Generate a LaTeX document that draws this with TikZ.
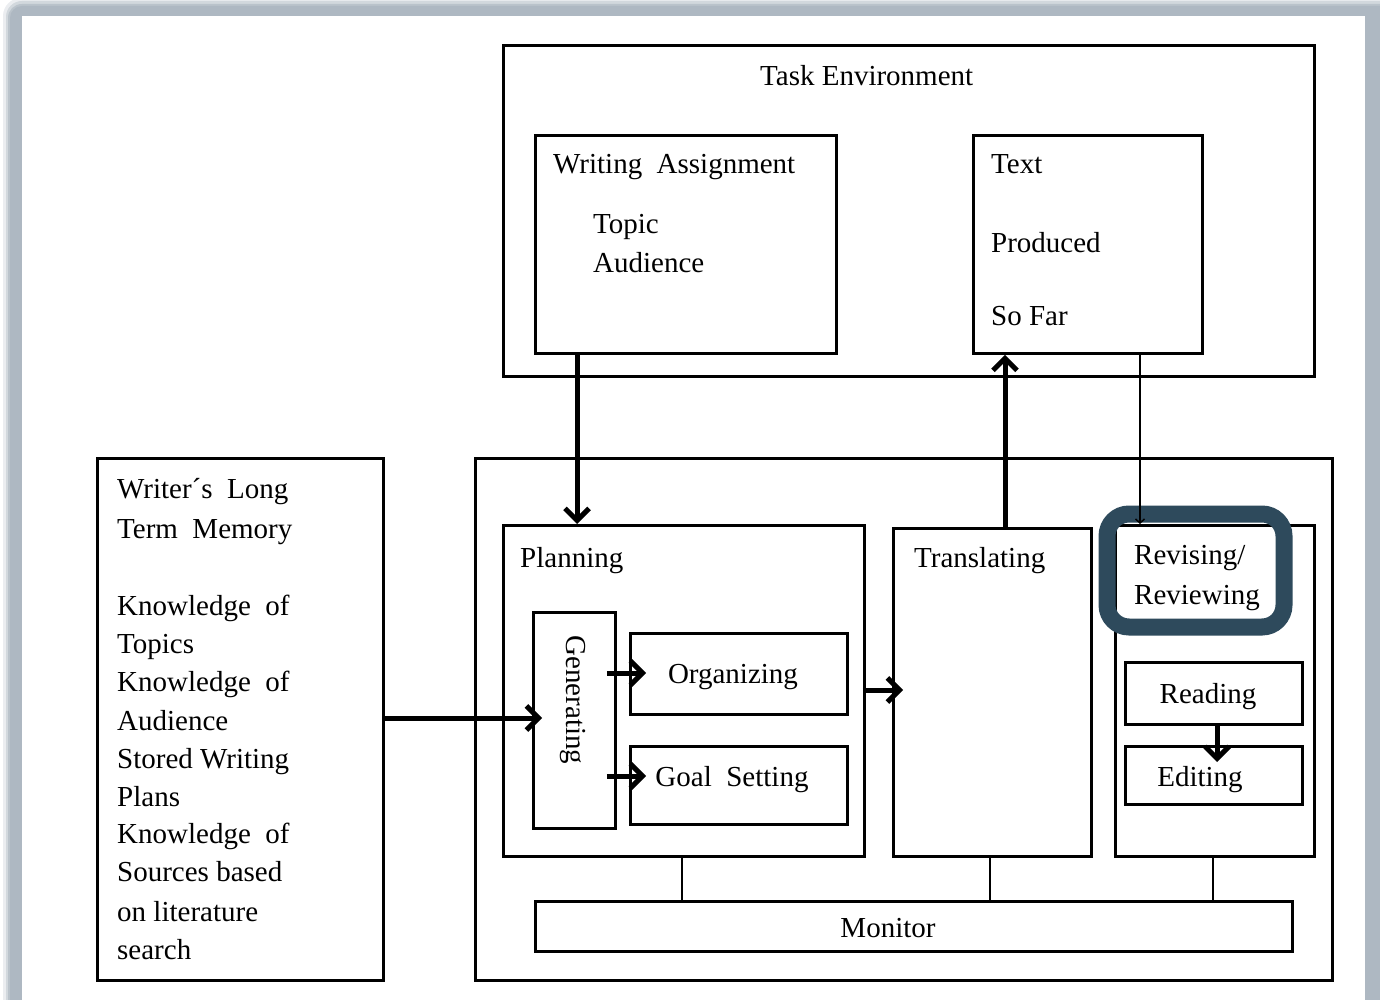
\documentclass[tikz,border=0pt]{standalone}
\usepackage{fontspec}
\setmainfont{Liberation Serif}
\usetikzlibrary{arrows.meta}
\definecolor{framegrey}{HTML}{AEB8C2}
\definecolor{hl}{HTML}{2E4A5C}
\begin{document}
\begin{tikzpicture}[x=1pt,y=-1pt,
  box/.style={draw, line width=2.8pt, anchor=north west, inner sep=0pt},
  lbl/.style={font=\fontsize{29}{34}\selectfont, inner sep=0pt, anchor=base west},
  arr/.style={line width=5pt, -{Straight Barb[length=12pt,width=24pt,line width=5pt]}},
  thinarr/.style={line width=2pt, -{Straight Barb[length=4pt,width=9pt,line width=1.5pt]}},
  link/.style={line width=2.8pt}]
\useasboundingbox (0,0) rectangle (1380,1000);
% frame
\fill[framegrey!25, rounded corners=18pt] (3,-2) rectangle (1400,1030);
\fill[framegrey!55, rounded corners=16pt] (6,1) rectangle (1400,1030);
\fill[framegrey!85, rounded corners=14pt] (8,4) rectangle (1400,1030);
\fill[framegrey, rounded corners=12pt] (10,6) rectangle (1400,1030);
\fill[white] (22,16) rectangle (1365,1030);

% boxes
\node[box, minimum width=811pt, minimum height=331pt] (task) at (502,44) {};
\node[box, minimum width=301pt, minimum height=218pt] (wa) at (534,134) {};
\node[box, minimum width=229pt, minimum height=218pt] (text) at (972,134) {};
\node[box, minimum width=857pt, minimum height=522pt] (outer) at (474,457) {};
\node[box, minimum width=286pt, minimum height=522pt] (ltm) at (96,457) {};
\node[box, minimum width=361pt, minimum height=331pt] (plan) at (502,524) {};
\node[box, minimum width=82pt, minimum height=216pt] (gen) at (532,611) {};
\node[box, minimum width=217pt, minimum height=81pt] (org) at (629,632) {};
\node[box, minimum width=217pt, minimum height=78pt] (goal) at (629,745) {};
\node[box, minimum width=198pt, minimum height=328pt] (trans) at (892,527) {};
\node[box, minimum width=199pt, minimum height=331pt] (rev) at (1114,524) {};
\node[box, minimum width=177pt, minimum height=62pt] (read) at (1124,661) {};
\node[box, minimum width=177pt, minimum height=58pt] (edit) at (1124,745) {};
\node[box, minimum width=757pt, minimum height=50pt] (mon) at (534,900) {};

% labels
\node[lbl] (tTask) at (760,86) {Task Environment};
\node[lbl] (tWA) at (553,174) {Writing\ \ Assignment};
\node[lbl] (tTopic) at (593,234) {Topic};
\node[lbl] (tAud) at (593,272) {Audience};
\node[lbl] (tText) at (991,174) {Text};
\node[lbl] (tProd) at (991,252) {Produced};
\node[lbl] (tSoFar) at (991,325) {So Far};
\node[lbl] (l1) at (117,498) {Writer´s\ \ Long};
\node[lbl] (l2) at (117,538) {Term\ \ Memory};
\node[lbl] (l3) at (117,615) {Knowledge\ \ of};
\node[lbl] (l4) at (117,653) {Topics};
\node[lbl] (l5) at (117,691) {Knowledge\ \ of};
\node[lbl] (l6) at (117,730) {Audience};
\node[lbl] (l7) at (117,768) {Stored Writing};
\node[lbl] (l8) at (117,806) {Plans};
\node[lbl] (l9) at (117,843) {Knowledge\ \ of};
\node[lbl] (l10) at (117,881) {Sources based};
\node[lbl] (l11) at (117,921) {on literature};
\node[lbl] (l12) at (117,959) {search};
\node[lbl] (tPlan) at (520,567) {Planning};
\node[lbl] (tTrans) at (914,567) {Translating};
\node[lbl] (tRev1) at (1134,564) {Revising/};
\node[lbl] (tRev2) at (1134,604) {Reviewing};
\node[lbl, anchor=center, rotate=-90] (tGen) at (573,700) {Generating};
\node[lbl, anchor=base] (tOrg) at (733,683) {Organizing};
\node[lbl, anchor=base] (tGoal) at (732,786) {Goal\ \ Setting};
\node[lbl, anchor=base] (tRead) at (1208,703) {Reading};
\node[lbl, anchor=base] (tEdit) at (1200,786) {Editing};
\node[lbl, anchor=base] (tMon) at (888,937) {Monitor};

% highlight
\draw[hl, line width=17pt, rounded corners=22pt] (1107,514) rectangle (1284,627);

% helper coordinates
\coordinate (c577) at (577,0);
\coordinate (c1005) at (1005,0);
\coordinate (c1140) at (1140,0);
\coordinate (c1217) at (1217,0);
\coordinate (c682) at (682,0);
\coordinate (c990) at (990,0);
\coordinate (c1213) at (1213,0);
\coordinate (y718) at (0,718);
\coordinate (y673) at (0,673);
\coordinate (y776) at (0,776);
\coordinate (y690) at (0,690);

% connectors
\draw[arr] (wa.south -| c577) -- (plan.north -| c577);
\draw[arr] (trans.north -| c1005) -- (text.south -| c1005);
\draw[thinarr] (text.south -| c1140) -- (rev.north -| c1140);
\draw[arr, shorten >=-10pt] (ltm.east |- y718) -- (gen.west |- y718);
\draw[arr, shorten <=-10pt, shorten >=-17pt] (gen.east |- y673) -- (org.west |- y673);
\draw[arr, shorten <=-10pt, shorten >=-17pt] (gen.east |- y776) -- (goal.west |- y776);
\draw[arr, shorten <=-3pt, shorten >=-11pt] (plan.east |- y690) -- (trans.west |- y690);
\draw[arr, shorten >=-17pt] (read.south -| c1217) -- (edit.north -| c1217);
\draw[link] (plan.south -| c682) -- (mon.north -| c682);
\draw[link] (trans.south -| c990) -- (mon.north -| c990);
\draw[link] (rev.south -| c1213) -- (mon.north -| c1213);
\end{tikzpicture}
\end{document}
